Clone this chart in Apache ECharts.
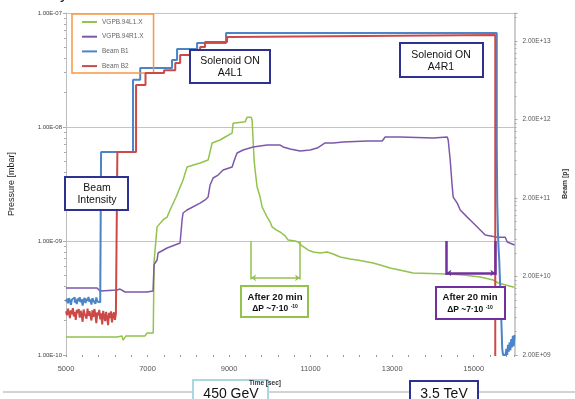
<!DOCTYPE html>
<html>
<head>
<meta charset="utf-8">
<script src="https://cdn.jsdelivr.net/npm/echarts@6/dist/echarts.min.js"></script>
<style>
  html, body { margin: 0; padding: 0; background: #fff; }
  #chart { width: 575px; height: 399px; }
</style>
</head>
<body>
<div id="chart"></div>
<script>
// ---- axis ticks -------------------------------------------------------
const timeTickLabels = ['5000', '7000', '9000', '11000', '13000', '15000'];
const pressureTickValues = [1e-10, 1e-9, 1e-8, 1e-7];
const pressureTickLabels = ['1.00E-10', '1.00E-09', '1.00E-08', '1.00E-07'];
const beamTickValues = [2e9, 2e10, 2e11, 2e12, 2e13];
const beamTickLabels = ['2.00E+09', '2.00E+10', '2.00E+11', '2.00E+12', '2.00E+13'];

const seriesNames = ['VGPB.94L1.X', 'VGPB.94R1.X', 'Beam B1', 'Beam B2'];

// ---- vacuum gauges: [time s, pressure mbar] ---------------------------
const vgpbL1 = [
  [5000, 1.44e-10], [6250, 1.44e-10], [6276, 1.47e-10], [6374, 1.47e-10], [6399, 1.35e-10],
  [6448, 1.35e-10], [6472, 1.47e-10], [6939, 1.47e-10], [6988, 1.56e-10], [7140, 1.56e-10],
  [7160, 6.6e-10], [7233, 1.33e-9], [7380, 1.53e-9], [7479, 1.62e-9], [7552, 1.87e-9],
  [7700, 2.43e-9], [7871, 3.43e-9], [7969, 4.46e-9], [8288, 4.83e-9], [8485, 5.13e-9],
  [8583, 7.24e-9], [8779, 7.69e-9], [8902, 8.17e-9], [9074, 8.85e-9], [9098, 1.08e-8],
  [9393, 1.11e-8], [9442, 1.22e-8], [9540, 1.22e-8], [9564, 1.15e-8], [9589, 7.69e-9],
  [9614, 5.13e-9], [9638, 4.19e-9], [9687, 2.98e-9], [9761, 2.43e-9], [9810, 1.99e-9],
  [9883, 1.76e-9], [9933, 1.62e-9], [10006, 1.47e-9], [10055, 1.33e-9], [10153, 1.25e-9],
  [10252, 1.20e-9], [10374, 1.11e-9], [10448, 1.02e-9], [10620, 1.0e-9], [10693, 9.8e-10],
  [10791, 9.04e-10], [10939, 8.34e-10], [11061, 8.01e-10], [11233, 7.85e-10], [11405, 8.01e-10],
  [11552, 7.69e-10], [11724, 7.24e-10], [11969, 6.95e-10], [12141, 6.81e-10], [12534, 6.41e-10],
  [12706, 6.16e-10], [12951, 5.8e-10], [13515, 5.24e-10], [14350, 5.13e-10], [14742, 5.03e-10],
  [15160, 4.83e-10], [15479, 4.55e-10], [15601, 4.28e-10], [15969, 3.95e-10], [16000, 3.95e-10]
];

const vgpbR1 = [
  [5000, 3.87e-10], [5761, 3.87e-10], [5834, 3.64e-10], [6252, 3.72e-10], [6325, 3.79e-10],
  [6448, 3.57e-10], [6988, 3.57e-10], [7135, 3.64e-10], [7160, 6.2e-10], [7233, 6.81e-10],
  [7258, 7.85e-10], [7479, 8.68e-10], [7798, 9.6e-10], [7847, 1.53e-9], [7871, 1.76e-9],
  [7969, 1.87e-9], [8288, 2.15e-9], [8411, 2.29e-9], [8485, 2.43e-9], [8534, 3.10e-9],
  [8608, 3.57e-9], [8730, 3.79e-9], [8853, 4.19e-9], [9074, 4.46e-9], [9147, 5.35e-9],
  [9196, 5.91e-9], [9344, 6.28e-9], [9589, 6.68e-9], [9933, 6.95e-9], [10252, 6.95e-9],
  [10325, 6.68e-9], [10497, 6.41e-9], [10742, 6.15e-9], [10988, 6.28e-9], [11160, 6.54e-9],
  [11356, 7.24e-9], [11552, 7.24e-9], [11798, 7.38e-9], [12387, 7.54e-9], [12755, 7.54e-9],
  [12828, 8.17e-9], [13196, 8.17e-9], [14006, 8.01e-9], [14350, 8.17e-9], [14374, 7.69e-9],
  [14423, 5.13e-9], [14473, 2.98e-9], [14497, 2.43e-9], [14595, 2.15e-9], [14669, 1.87e-9],
  [14841, 1.62e-9], [14914, 1.53e-9], [14988, 1.44e-9], [15160, 1.25e-9], [15283, 1.13e-9],
  [15577, 1.08e-9], [15773, 1.08e-9], [15822, 9.8e-10], [16000, 9.22e-10]
];

// ---- beam intensities (protons) ---------------------------------------
// pilot-level readings before injection, in units of 1e9 p, one every 24 s from t = 5000 s
const b1InjectionNoise = [9.6, 10.4, 9.1, 10.6, 9.8, 8.7, 10.2, 9.9, 10.8, 9.3, 10.1, 8.9,
  10.5, 9.7, 10.9, 9.4, 10.3, 8.5, 10.0, 10.7, 9.2, 10.4, 9.8, 11.0, 9.5, 10.2, 8.8, 10.6,
  9.9, 10.3, 9.0, 10.8, 9.6, 10.1, 9.4, 10.5];
const b2InjectionNoise = [7.2, 6.4, 7.8, 6.9, 5.9, 7.4, 6.6, 7.9, 6.2, 7.1, 5.6, 7.5, 6.8,
  7.7, 6.0, 7.3, 6.5, 5.3, 7.6, 6.7, 7.0, 5.8, 7.8, 6.3, 7.2, 6.9, 5.5, 7.4, 6.1, 7.7, 6.6,
  5.1, 7.0, 6.4, 7.5, 5.7, 6.8, 4.9, 7.3, 6.2, 5.4, 7.1, 6.0, 4.8, 6.9, 5.9, 7.2, 5.2, 6.5,
  7.0, 5.6, 6.7];
// fill steps: [time s, protons]
const b1Fill = [[5860, 7.7e11], [6644, 6.4e12], [6820, 9.06e12], [7600, 1.15e13],
  [7724, 1.58e13], [8215, 1.89e13], [8926, 2.53e13]];
const b2Fill = [[6260, 7.7e11], [6718, 5.5e12], [6950, 7.8e12], [7405, 8.5e12],
  [7680, 1.05e13], [7800, 1.33e13], [8290, 1.68e13], [8410, 1.94e13], [8950, 2.25e13],
  [9075, 2.38e13]];
// beam dump
const b1Dump = [[15565, 1.0e12], [15577, 1.7e11], [15595, 7.0e10], [15610, 4.5e10],
  [15626, 3.2e10], [15645, 1.7e10], [15662, 1.0e10], [15680, 5.0e9], [15699, 2.4e9], [15720, 2.0e9]];
const b2Dump = [[15528, 1.5e9], [16000, 1.5e9]];
// residual reading after the dump, units of 1e9 p, one every 20 s from t = 15780 s
const b1TailNoise = [2.1, 2.4, 2.0, 2.7, 2.2, 2.9, 2.3, 3.2, 2.5, 3.5, 2.6, 3.6];

// ---- annotation windows (20 min after each solenoid switch-on) --------
const windowL1 = [9540, 10740];
const windowR1 = [14330, 15530];

// ----------------------------------------------------------------------
const FONT = '"Liberation Sans", Arial, Helvetica, sans-serif';
const C_GREEN = '#93c24d', C_PURPLE = '#7c58ab', C_BLUE = '#4b84c8', C_RED = '#cb4a48';
const C_BOX = '#2d3190', C_VIOLET = '#7030a0';

function sampled(t0, dt, values, unit) {
  return values.map((v, i) => [t0 + i * dt, v * unit]);
}
const beamB1 = [...sampled(5000, 24, b1InjectionNoise, 1e9), ...b1Fill, ...b1Dump,
  ...sampled(15780, 20, b1TailNoise, 1e9)];
const beamB2 = [...sampled(5000, 24, b2InjectionNoise, 1e9), ...b2Fill, ...b2Dump];

// The beam axis has its decades on 2·10^n, so it runs in half-units internally.
const BEAM_UNIT = 2;
const toBeamAxis = d => d.map(([t, b]) => [t, b / BEAM_UNIT]);

function decadeLabel(values, labels, v) {
  const lv = Math.log10(v);
  for (let i = 0; i < values.length; i++) {
    if (Math.abs(Math.log10(values[i]) - lv) < 1e-6) return labels[i];
  }
  return '';
}

const chart = echarts.init(document.getElementById('chart'), null, { renderer: 'canvas' });

function box(x, y, w, h, stroke, lw) {
  return { type: 'rect', z: 100, shape: { x, y, width: w, height: h },
    style: { fill: '#fff', stroke, lineWidth: lw || 2 } };
}
function label(x, y, text, font) {
  return { type: 'text', z: 101, style: { x, y, text, fill: '#111', font,
    align: 'center', verticalAlign: 'middle' } };
}
function deltaP(x, y) {
  return { type: 'text', z: 101, style: { x, y, fill: '#111', align: 'center', verticalAlign: 'middle',
    text: '{b|ΔP ~7·10 }{s|-10}',
    rich: { b: { font: 'bold 8.5px ' + FONT, fill: '#111' },
            s: { font: 'bold 5px ' + FONT, fill: '#111', verticalAlign: 'top', padding: [0, 0, 5, 0] } } } };
}

function bracket(win, top, bottom, arrowAt) {
  return [
    [{ coord: [win[0], top] }, { coord: [win[0], bottom] }],
    [{ coord: [win[1], top] }, { coord: [win[1], bottom] }],
    [{ coord: [win[0], arrowAt], symbol: 'arrow' }, { coord: [win[1], arrowAt], symbol: 'arrow' }]
  ];
}

const option = {
  animation: false,
  backgroundColor: '#fff',
  textStyle: { fontFamily: FONT },
  grid: { left: 66, top: 13, width: 448.5, height: 342, containLabel: false, outerBoundsMode: 'none' },
  legend: {
    left: 72, top: 14, orient: 'vertical', icon: 'rect',
    itemWidth: 15, itemHeight: 2, itemGap: 6.7,
    padding: [4, 10, 3, 10],
    borderColor: '#f79646', borderWidth: 1.5,
    selectedMode: false,
    textStyle: { fontSize: 6.5, lineHeight: 8, color: '#666', fontFamily: FONT },
    data: seriesNames
  },
  xAxis: {
    type: 'value', min: 5000, max: 16000, interval: 2000,
    axisLine: { show: false },
    axisTick: { show: true, length: 2, lineStyle: { color: '#999' } },
    minorTick: { show: true, splitNumber: 5, length: 2, lineStyle: { color: '#999' } },
    splitLine: { show: false },
    axisLabel: { fontSize: 7.5, color: '#555', margin: 10, showMaxLabel: false,
      formatter: v => timeTickLabels.includes(String(v)) ? String(v) : '' }
  },
  yAxis: [
    {
      type: 'log', logBase: 10, min: 1e-10, max: 1e-7,
      name: 'Pressure [mbar]', nameLocation: 'middle', nameGap: 50, nameRotate: 90,
      nameTextStyle: { fontSize: 9, color: '#222', fontFamily: FONT },
      axisLine: { show: true, lineStyle: { color: '#bdbdbd', width: 1 } },
      axisTick: { show: true, length: 3, lineStyle: { color: '#aaa' } },
      minorTick: { show: true, splitNumber: 9, length: 2, lineStyle: { color: '#aaa' } },
      splitLine: { show: true, showMinLine: false, lineStyle: { color: '#c4c4c4', width: 1 } },
      axisLabel: { fontSize: 6, color: '#444', margin: 4,
        formatter: v => decadeLabel(pressureTickValues, pressureTickLabels, v) }
    },
    {
      type: 'log', logBase: 10, min: 2e9 / BEAM_UNIT, max: 4.55e13 / BEAM_UNIT, position: 'right',
      name: 'Beam [p]', nameLocation: 'middle', nameGap: 47, nameRotate: 90,
      nameTextStyle: { fontSize: 7, fontWeight: 'bold', color: '#333', fontFamily: FONT },
      axisLine: { show: true, lineStyle: { color: '#bdbdbd', width: 1.5 } },
      axisTick: { show: true, length: 3, lineStyle: { color: '#aaa' } },
      minorTick: { show: true, splitNumber: 9, length: 2, lineStyle: { color: '#aaa' } },
      splitLine: { show: false },
      axisLabel: { fontSize: 6.5, color: '#555', margin: 8,
        formatter: v => decadeLabel(beamTickValues, beamTickLabels, v * BEAM_UNIT) }
    }
  ],
  series: [
    {
      name: seriesNames[0], type: 'line', yAxisIndex: 0, data: vgpbL1,
      showSymbol: false, color: C_GREEN, lineStyle: { width: 1.5 }, z: 2,
      markLine: {
        silent: true, symbol: 'none', symbolSize: 5, animation: false,
        label: { show: false }, emphasis: { disabled: true },
        lineStyle: { color: C_GREEN, width: 1.5, type: 'solid' },
        data: bracket(windowL1, 1e-9, 4.6e-10, 4.75e-10)
      }
    },
    {
      name: seriesNames[1], type: 'line', yAxisIndex: 0, data: vgpbR1,
      showSymbol: false, color: C_PURPLE, lineStyle: { width: 1.5 }, z: 2,
      markLine: {
        silent: true, symbol: 'none', symbolSize: 5, animation: false,
        label: { show: false }, emphasis: { disabled: true },
        lineStyle: { color: C_VIOLET, width: 2.5, type: 'solid' },
        data: bracket(windowR1, 1e-9, 5.03e-10, 5.24e-10)
      }
    },
    {
      name: seriesNames[2], type: 'line', yAxisIndex: 1, data: toBeamAxis(beamB1),
      step: 'end', showSymbol: false, color: C_BLUE, lineStyle: { width: 2 }, z: 3
    },
    {
      name: seriesNames[3], type: 'line', yAxisIndex: 1, data: toBeamAxis(beamB2),
      step: 'end', showSymbol: false, color: C_RED, lineStyle: { width: 2 }, z: 4
    }
  ],
  graphic: [
    { type: 'text', z: 101, style: { x: 60, y: -13, text: 'y', fill: '#222', font: '16px ' + FONT } },
    { type: 'line', z: 90, shape: { x1: 3, y1: 392, x2: 575, y2: 392 }, style: { stroke: '#a6a6a6', lineWidth: 1 } },
    { type: 'text', z: 101, style: { x: 265, y: 383, text: 'Time [sec]', fill: '#333',
      font: 'bold 6.5px ' + FONT, align: 'center', verticalAlign: 'middle' } },

    box(190, 50, 80, 33, C_BOX),
    label(230, 61, 'Solenoid ON', '10.5px ' + FONT),
    label(230, 73, 'A4L1', '10.5px ' + FONT),

    box(400, 43, 83, 34, C_BOX),
    label(441, 55, 'Solenoid ON', '10.5px ' + FONT),
    label(441, 67, 'A4R1', '10.5px ' + FONT),

    box(65, 177, 63, 33, C_BOX),
    label(97, 188, 'Beam', '10.5px ' + FONT),
    label(97, 200, 'Intensity', '10.5px ' + FONT),

    box(241, 286, 67, 31, C_GREEN),
    label(275, 297, 'After 20 min', 'bold 9.5px ' + FONT),
    deltaP(275, 309),

    box(436, 287, 69, 32, C_VIOLET),
    label(470, 297, 'After 20 min', 'bold 9.5px ' + FONT),
    deltaP(470, 310),

    box(193, 380, 75, 26, '#a9d8e2'),
    label(231, 394, '450 GeV', '14px ' + FONT),

    box(410, 381, 68, 26, C_BOX),
    label(444, 394, '3.5 TeV', '14px ' + FONT)
  ]
};

chart.setOption(option);
</script>
</body>
</html>
